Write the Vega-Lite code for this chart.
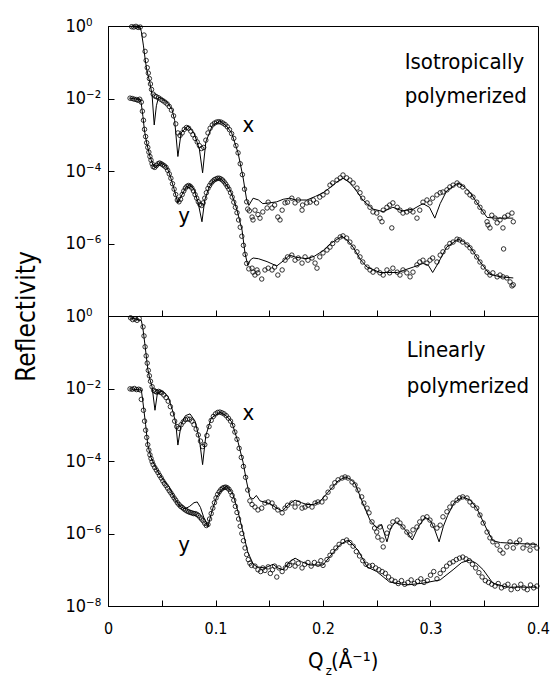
{
"$schema": "https://vega.github.io/schema/vega-lite/v6.json",
"background": "white",
"padding": {"left": 12, "top": 16, "right": 0, "bottom": 0},
"bounds": "flush",
"spacing": 0,
"config": {
 "view": {"stroke": "black", "strokeWidth": 1},
 "font": "DejaVu Sans Condensed, sans-serif",
 "axis": {"grid": false, "domainColor": "black", "tickColor": "black", "labelColor": "black", "titleColor": "black", "tickSize": -6, "labelFontSize": 18, "labelOverlap": false, "labelFlush": false, "labelFont": "DejaVu Sans Condensed, sans-serif", "titleFont": "DejaVu Sans Condensed, sans-serif", "titleFontWeight": "normal", "domainWidth": 1, "tickWidth": 1}
},
"datasets": {
"topFit": [
{"q":0.020,"lr":-0.02,"s":"x"},{"q":0.025,"lr":-0.02,"s":"x"},{"q":0.030,"lr":-0.05,"s":"x"},{"q":0.031,"lr":-0.15,"s":"x"},{"q":0.033,"lr":-0.55,"s":"x"},{"q":0.0345,"lr":-0.9,"s":"x"},{"q":0.036,"lr":-1.2,"s":"x"},{"q":0.039,"lr":-1.57,"s":"x"},{"q":0.041,"lr":-1.9,"s":"x"},{"q":0.043,"lr":-2.73,"s":"x"},{"q":0.045,"lr":-2.2,"s":"x"},{"q":0.047,"lr":-1.97,"s":"x"},{"q":0.050,"lr":-2.0,"s":"x"},{"q":0.055,"lr":-2.1,"s":"x"},{"q":0.0595,"lr":-2.3,"s":"x"},{"q":0.062,"lr":-2.6,"s":"x"},{"q":0.065,"lr":-3.6,"s":"x"},{"q":0.068,"lr":-2.95,"s":"x"},{"q":0.0744,"lr":-2.75,"s":"x"},{"q":0.080,"lr":-2.95,"s":"x"},{"q":0.085,"lr":-3.4,"s":"x"},{"q":0.088,"lr":-4.05,"s":"x"},{"q":0.091,"lr":-3.2,"s":"x"},{"q":0.097,"lr":-2.75,"s":"x"},{"q":0.104,"lr":-2.62,"s":"x"},{"q":0.110,"lr":-2.75,"s":"x"},{"q":0.115,"lr":-2.95,"s":"x"},{"q":0.121,"lr":-3.5,"s":"x"},{"q":0.1256,"lr":-4.17,"s":"x"},{"q":0.129,"lr":-4.8,"s":"x"},{"q":0.131,"lr":-4.95,"s":"x"},{"q":0.135,"lr":-4.75,"s":"x"},{"q":0.140,"lr":-4.8,"s":"x"},{"q":0.144,"lr":-4.9,"s":"x"},{"q":0.150,"lr":-4.88,"s":"x"},{"q":0.157,"lr":-4.85,"s":"x"},{"q":0.163,"lr":-4.78,"s":"x"},{"q":0.169,"lr":-4.75,"s":"x"},{"q":0.175,"lr":-4.8,"s":"x"},{"q":0.185,"lr":-4.8,"s":"x"},{"q":0.193,"lr":-4.7,"s":"x"},{"q":0.200,"lr":-4.6,"s":"x"},{"q":0.207,"lr":-4.45,"s":"x"},{"q":0.213,"lr":-4.3,"s":"x"},{"q":0.2186,"lr":-4.2,"s":"x"},{"q":0.224,"lr":-4.3,"s":"x"},{"q":0.230,"lr":-4.5,"s":"x"},{"q":0.237,"lr":-4.8,"s":"x"},{"q":0.2465,"lr":-5.05,"s":"x"},{"q":0.256,"lr":-5.12,"s":"x"},{"q":0.265,"lr":-5.0,"s":"x"},{"q":0.274,"lr":-5.1,"s":"x"},{"q":0.284,"lr":-5.05,"s":"x"},{"q":0.293,"lr":-4.9,"s":"x"},{"q":0.299,"lr":-5.0,"s":"x"},{"q":0.304,"lr":-5.3,"s":"x"},{"q":0.309,"lr":-4.9,"s":"x"},{"q":0.315,"lr":-4.55,"s":"x"},{"q":0.3256,"lr":-4.33,"s":"x"},{"q":0.332,"lr":-4.45,"s":"x"},{"q":0.337,"lr":-4.6,"s":"x"},{"q":0.346,"lr":-5.0,"s":"x"},{"q":0.3526,"lr":-5.28,"s":"x"},{"q":0.360,"lr":-5.3,"s":"x"},{"q":0.377,"lr":-5.3,"s":"x"},
{"q":0.020,"lr":-1.99,"s":"y"},{"q":0.030,"lr":-2.03,"s":"y"},{"q":0.031,"lr":-2.15,"s":"y"},{"q":0.0325,"lr":-2.5,"s":"y"},{"q":0.034,"lr":-2.9,"s":"y"},{"q":0.036,"lr":-3.23,"s":"y"},{"q":0.039,"lr":-3.6,"s":"y"},{"q":0.0425,"lr":-3.88,"s":"y"},{"q":0.0445,"lr":-3.9,"s":"y"},{"q":0.0484,"lr":-3.77,"s":"y"},{"q":0.052,"lr":-3.82,"s":"y"},{"q":0.055,"lr":-3.9,"s":"y"},{"q":0.058,"lr":-4.15,"s":"y"},{"q":0.0615,"lr":-4.5,"s":"y"},{"q":0.065,"lr":-4.88,"s":"y"},{"q":0.068,"lr":-4.7,"s":"y"},{"q":0.0725,"lr":-4.45,"s":"y"},{"q":0.0763,"lr":-4.38,"s":"y"},{"q":0.080,"lr":-4.5,"s":"y"},{"q":0.084,"lr":-4.9,"s":"y"},{"q":0.0874,"lr":-5.4,"s":"y"},{"q":0.090,"lr":-4.8,"s":"y"},{"q":0.094,"lr":-4.45,"s":"y"},{"q":0.098,"lr":-4.28,"s":"y"},{"q":0.104,"lr":-4.2,"s":"y"},{"q":0.108,"lr":-4.3,"s":"y"},{"q":0.1135,"lr":-4.52,"s":"y"},{"q":0.117,"lr":-4.8,"s":"y"},{"q":0.120,"lr":-5.08,"s":"y"},{"q":0.1247,"lr":-5.63,"s":"y"},{"q":0.1274,"lr":-6.26,"s":"y"},{"q":0.130,"lr":-6.6,"s":"y"},{"q":0.1325,"lr":-6.45,"s":"y"},{"q":0.135,"lr":-6.4,"s":"y"},{"q":0.140,"lr":-6.42,"s":"y"},{"q":0.148,"lr":-6.5,"s":"y"},{"q":0.157,"lr":-6.62,"s":"y"},{"q":0.163,"lr":-6.48,"s":"y"},{"q":0.169,"lr":-6.32,"s":"y"},{"q":0.175,"lr":-6.38,"s":"y"},{"q":0.185,"lr":-6.42,"s":"y"},{"q":0.192,"lr":-6.35,"s":"y"},{"q":0.200,"lr":-6.2,"s":"y"},{"q":0.207,"lr":-6.0,"s":"y"},{"q":0.2177,"lr":-5.8,"s":"y"},{"q":0.223,"lr":-5.92,"s":"y"},{"q":0.228,"lr":-6.1,"s":"y"},{"q":0.235,"lr":-6.45,"s":"y"},{"q":0.241,"lr":-6.65,"s":"y"},{"q":0.253,"lr":-6.8,"s":"y"},{"q":0.269,"lr":-6.8,"s":"y"},{"q":0.284,"lr":-6.65,"s":"y"},{"q":0.293,"lr":-6.55,"s":"y"},{"q":0.298,"lr":-6.6,"s":"y"},{"q":0.302,"lr":-6.8,"s":"y"},{"q":0.307,"lr":-6.55,"s":"y"},{"q":0.315,"lr":-6.1,"s":"y"},{"q":0.3256,"lr":-5.88,"s":"y"},{"q":0.331,"lr":-5.95,"s":"y"},{"q":0.337,"lr":-6.1,"s":"y"},{"q":0.346,"lr":-6.5,"s":"y"},{"q":0.355,"lr":-6.85,"s":"y"},{"q":0.365,"lr":-6.92,"s":"y"},{"q":0.377,"lr":-6.95,"s":"y"}
],
"topData": [
{"q":0.022,"lr":-0.02},{"q":0.024,"lr":-0.03},{"q":0.026,"lr":-0.01},{"q":0.028,"lr":-0.04},{"q":0.030,"lr":-0.03},{"q":0.0335,"lr":-0.25},{"q":0.0345,"lr":-0.7},{"q":0.0355,"lr":-0.95},{"q":0.0365,"lr":-1.15},{"q":0.0375,"lr":-1.3},{"q":0.0385,"lr":-1.45},{"q":0.0395,"lr":-1.6},{"q":0.0405,"lr":-1.75},{"q":0.042,"lr":-1.88},{"q":0.0435,"lr":-1.93},{"q":0.045,"lr":-1.95},{"q":0.047,"lr":-1.98},{"q":0.049,"lr":-2.02},{"q":0.051,"lr":-2.06},{"q":0.053,"lr":-2.1},{"q":0.055,"lr":-2.15},{"q":0.057,"lr":-2.22},{"q":0.059,"lr":-2.32},{"q":0.061,"lr":-2.48},{"q":0.063,"lr":-2.7},{"q":0.065,"lr":-2.95},{"q":0.067,"lr":-3.02},{"q":0.069,"lr":-2.95},{"q":0.071,"lr":-2.85},{"q":0.073,"lr":-2.8},{"q":0.075,"lr":-2.82},{"q":0.077,"lr":-2.9},{"q":0.079,"lr":-3.0},{"q":0.081,"lr":-3.1},{"q":0.083,"lr":-3.2},{"q":0.085,"lr":-3.3},{"q":0.087,"lr":-3.38},{"q":0.089,"lr":-3.35},{"q":0.091,"lr":-3.15},{"q":0.093,"lr":-2.95},{"q":0.095,"lr":-2.82},{"q":0.097,"lr":-2.73},{"q":0.099,"lr":-2.68},{"q":0.101,"lr":-2.65},{"q":0.103,"lr":-2.64},{"q":0.105,"lr":-2.65},{"q":0.107,"lr":-2.68},{"q":0.109,"lr":-2.72},{"q":0.111,"lr":-2.78},{"q":0.113,"lr":-2.86},{"q":0.115,"lr":-2.97},{"q":0.117,"lr":-3.1},{"q":0.119,"lr":-3.3},{"q":0.121,"lr":-3.5},{"q":0.123,"lr":-3.8},{"q":0.125,"lr":-4.1},{"q":0.127,"lr":-4.5},{"q":0.129,"lr":-4.85},{"q":0.130,"lr":-5.05},{"q":0.1315,"lr":-5.1},{"q":0.134,"lr":-5.27},{"q":0.1349,"lr":-5.35},{"q":0.1367,"lr":-5.08},{"q":0.1395,"lr":-5.2},{"q":0.1414,"lr":-5.3},{"q":0.144,"lr":-5.13},{"q":0.148,"lr":-5.02},{"q":0.149,"lr":-4.86},{"q":0.1526,"lr":-5.02},{"q":0.155,"lr":-4.94},{"q":0.158,"lr":-5.27},{"q":0.16,"lr":-5.35},{"q":0.162,"lr":-5.08},{"q":0.1647,"lr":-4.88},{"q":0.167,"lr":-4.86},{"q":0.171,"lr":-4.75},{"q":0.174,"lr":-4.88},{"q":0.177,"lr":-4.8},{"q":0.1805,"lr":-5.08},{"q":0.181,"lr":-4.94},{"q":0.185,"lr":-4.88},{"q":0.188,"lr":-4.86},{"q":0.191,"lr":-4.8},{"q":0.194,"lr":-4.88},{"q":0.197,"lr":-4.72},{"q":0.2,"lr":-4.66},{"q":0.2037,"lr":-4.58},{"q":0.2065,"lr":-4.39},{"q":0.209,"lr":-4.33},{"q":0.213,"lr":-4.25},{"q":0.216,"lr":-4.19},{"q":0.2186,"lr":-4.11},{"q":0.222,"lr":-4.19},{"q":0.225,"lr":-4.25},{"q":0.228,"lr":-4.33},{"q":0.2316,"lr":-4.47},{"q":0.2344,"lr":-4.6},{"q":0.237,"lr":-4.75},{"q":0.241,"lr":-4.88},{"q":0.2437,"lr":-5.0},{"q":0.2465,"lr":-5.13},{"q":0.25,"lr":-5.16},{"q":0.253,"lr":-5.3},{"q":0.2549,"lr":-5.4},{"q":0.256,"lr":-5.08},{"q":0.2595,"lr":-5.0},{"q":0.262,"lr":-4.94},{"q":0.264,"lr":-5.57},{"q":0.265,"lr":-4.88},{"q":0.269,"lr":-5.0},{"q":0.2716,"lr":-5.08},{"q":0.2744,"lr":-5.16},{"q":0.278,"lr":-5.13},{"q":0.281,"lr":-5.08},{"q":0.2837,"lr":-5.13},{"q":0.2874,"lr":-5.3},{"q":0.29,"lr":-5.08},{"q":0.293,"lr":-4.86},{"q":0.2967,"lr":-4.8},{"q":0.2995,"lr":-4.88},{"q":0.302,"lr":-4.75},{"q":0.306,"lr":-4.66},{"q":0.309,"lr":-4.6},{"q":0.3116,"lr":-4.58},{"q":0.3153,"lr":-4.52},{"q":0.318,"lr":-4.44},{"q":0.321,"lr":-4.39},{"q":0.3247,"lr":-4.33},{"q":0.327,"lr":-4.39},{"q":0.33,"lr":-4.44},{"q":0.334,"lr":-4.58},{"q":0.3367,"lr":-4.66},{"q":0.3395,"lr":-4.72},{"q":0.343,"lr":-4.86},{"q":0.346,"lr":-5.0},{"q":0.349,"lr":-5.13},{"q":0.3526,"lr":-5.4},{"q":0.3535,"lr":-5.49},{"q":0.3553,"lr":-5.57},{"q":0.357,"lr":-5.22},{"q":0.36,"lr":-5.3},{"q":0.362,"lr":-5.43},{"q":0.3647,"lr":-5.35},{"q":0.3674,"lr":-5.57},{"q":0.369,"lr":-5.27},{"q":0.372,"lr":-5.22},{"q":0.3758,"lr":-5.16},{"q":0.377,"lr":-5.4},
{"q":0.0205,"lr":-1.99},{"q":0.0225,"lr":-2.0},{"q":0.0245,"lr":-2.02},{"q":0.0265,"lr":-2.03},{"q":0.028,"lr":-2.05},{"q":0.0295,"lr":-2.02},{"q":0.031,"lr":-2.1},{"q":0.032,"lr":-2.35},{"q":0.033,"lr":-2.6},{"q":0.034,"lr":-2.85},{"q":0.035,"lr":-3.05},{"q":0.036,"lr":-3.22},{"q":0.037,"lr":-3.35},{"q":0.038,"lr":-3.48},{"q":0.039,"lr":-3.6},{"q":0.040,"lr":-3.7},{"q":0.041,"lr":-3.8},{"q":0.042,"lr":-3.88},{"q":0.0435,"lr":-3.9},{"q":0.045,"lr":-3.85},{"q":0.0465,"lr":-3.8},{"q":0.048,"lr":-3.78},{"q":0.0495,"lr":-3.8},{"q":0.051,"lr":-3.83},{"q":0.0525,"lr":-3.86},{"q":0.054,"lr":-3.9},{"q":0.0555,"lr":-3.98},{"q":0.057,"lr":-4.08},{"q":0.0585,"lr":-4.2},{"q":0.060,"lr":-4.35},{"q":0.0615,"lr":-4.5},{"q":0.063,"lr":-4.65},{"q":0.0645,"lr":-4.8},{"q":0.066,"lr":-4.85},{"q":0.0675,"lr":-4.78},{"q":0.069,"lr":-4.65},{"q":0.0705,"lr":-4.55},{"q":0.072,"lr":-4.47},{"q":0.0735,"lr":-4.42},{"q":0.075,"lr":-4.4},{"q":0.0765,"lr":-4.42},{"q":0.078,"lr":-4.47},{"q":0.0795,"lr":-4.55},{"q":0.081,"lr":-4.65},{"q":0.0825,"lr":-4.75},{"q":0.084,"lr":-4.85},{"q":0.0855,"lr":-4.92},{"q":0.087,"lr":-4.95},{"q":0.0885,"lr":-4.88},{"q":0.090,"lr":-4.75},{"q":0.0915,"lr":-4.6},{"q":0.093,"lr":-4.48},{"q":0.0945,"lr":-4.4},{"q":0.096,"lr":-4.33},{"q":0.0975,"lr":-4.28},{"q":0.099,"lr":-4.24},{"q":0.1005,"lr":-4.22},{"q":0.102,"lr":-4.2},{"q":0.1035,"lr":-4.2},{"q":0.105,"lr":-4.22},{"q":0.1065,"lr":-4.25},{"q":0.108,"lr":-4.3},{"q":0.1095,"lr":-4.36},{"q":0.111,"lr":-4.43},{"q":0.1125,"lr":-4.5},{"q":0.114,"lr":-4.6},{"q":0.1155,"lr":-4.72},{"q":0.117,"lr":-4.86},{"q":0.1185,"lr":-5.0},{"q":0.120,"lr":-5.15},{"q":0.1215,"lr":-5.35},{"q":0.123,"lr":-5.55},{"q":0.1245,"lr":-5.8},{"q":0.126,"lr":-6.05},{"q":0.1275,"lr":-6.3},{"q":0.129,"lr":-6.55},{"q":0.131,"lr":-6.7},{"q":0.134,"lr":-6.68},{"q":0.1349,"lr":-6.79},{"q":0.1367,"lr":-6.87},{"q":0.1386,"lr":-6.73},{"q":0.1395,"lr":-6.81},{"q":0.143,"lr":-6.98},{"q":0.146,"lr":-6.73},{"q":0.149,"lr":-6.68},{"q":0.1526,"lr":-6.73},{"q":0.155,"lr":-6.65},{"q":0.158,"lr":-6.87},{"q":0.162,"lr":-6.73},{"q":0.1647,"lr":-6.46},{"q":0.167,"lr":-6.37},{"q":0.171,"lr":-6.32},{"q":0.174,"lr":-6.46},{"q":0.177,"lr":-6.4},{"q":0.1805,"lr":-6.54},{"q":0.1833,"lr":-6.37},{"q":0.186,"lr":-6.46},{"q":0.1898,"lr":-6.4},{"q":0.1926,"lr":-6.54},{"q":0.1944,"lr":-6.68},{"q":0.197,"lr":-6.37},{"q":0.2,"lr":-6.26},{"q":0.2037,"lr":-6.18},{"q":0.2065,"lr":-6.1},{"q":0.209,"lr":-6.0},{"q":0.213,"lr":-5.9},{"q":0.216,"lr":-5.82},{"q":0.2186,"lr":-5.79},{"q":0.222,"lr":-5.85},{"q":0.225,"lr":-5.96},{"q":0.228,"lr":-6.1},{"q":0.2316,"lr":-6.23},{"q":0.2344,"lr":-6.37},{"q":0.237,"lr":-6.51},{"q":0.241,"lr":-6.65},{"q":0.2437,"lr":-6.73},{"q":0.2465,"lr":-6.79},{"q":0.25,"lr":-6.73},{"q":0.253,"lr":-6.81},{"q":0.256,"lr":-6.87},{"q":0.2595,"lr":-6.73},{"q":0.262,"lr":-6.81},{"q":0.265,"lr":-6.68},{"q":0.269,"lr":-6.79},{"q":0.2716,"lr":-6.87},{"q":0.2744,"lr":-6.73},{"q":0.278,"lr":-6.81},{"q":0.281,"lr":-6.92},{"q":0.2837,"lr":-6.79},{"q":0.2874,"lr":-6.59},{"q":0.29,"lr":-6.51},{"q":0.293,"lr":-6.46},{"q":0.2967,"lr":-6.54},{"q":0.2995,"lr":-6.46},{"q":0.302,"lr":-6.4},{"q":0.306,"lr":-6.51},{"q":0.309,"lr":-6.32},{"q":0.3116,"lr":-6.23},{"q":0.3153,"lr":-6.1},{"q":0.318,"lr":-6.0},{"q":0.321,"lr":-5.96},{"q":0.3247,"lr":-5.88},{"q":0.327,"lr":-5.9},{"q":0.33,"lr":-5.96},{"q":0.334,"lr":-6.04},{"q":0.3367,"lr":-6.12},{"q":0.3395,"lr":-6.23},{"q":0.343,"lr":-6.37},{"q":0.346,"lr":-6.51},{"q":0.349,"lr":-6.65},{"q":0.3526,"lr":-6.79},{"q":0.3553,"lr":-6.87},{"q":0.358,"lr":-6.81},{"q":0.362,"lr":-6.92},{"q":0.3647,"lr":-6.87},{"q":0.3674,"lr":-6.92},{"q":0.368,"lr":-6.15},{"q":0.371,"lr":-6.95},{"q":0.374,"lr":-7.06},{"q":0.3758,"lr":-7.17},{"q":0.377,"lr":-7.14}
],
"botFit": [
{"q":0.020,"lr":-0.05,"s":"x"},{"q":0.025,"lr":-0.08,"s":"x"},{"q":0.031,"lr":-0.12,"s":"x"},{"q":0.0325,"lr":-0.35,"s":"x"},{"q":0.0344,"lr":-0.8,"s":"x"},{"q":0.037,"lr":-1.46,"s":"x"},{"q":0.039,"lr":-1.75,"s":"x"},{"q":0.041,"lr":-1.95,"s":"x"},{"q":0.0437,"lr":-2.6,"s":"x"},{"q":0.046,"lr":-2.12,"s":"x"},{"q":0.049,"lr":-2.08,"s":"x"},{"q":0.052,"lr":-2.1,"s":"x"},{"q":0.056,"lr":-2.23,"s":"x"},{"q":0.0605,"lr":-2.65,"s":"x"},{"q":0.063,"lr":-2.95,"s":"x"},{"q":0.065,"lr":-3.56,"s":"x"},{"q":0.068,"lr":-3.0,"s":"x"},{"q":0.072,"lr":-2.75,"s":"x"},{"q":0.0763,"lr":-2.7,"s":"x"},{"q":0.081,"lr":-2.9,"s":"x"},{"q":0.085,"lr":-3.4,"s":"x"},{"q":0.088,"lr":-4.1,"s":"x"},{"q":0.091,"lr":-3.3,"s":"x"},{"q":0.096,"lr":-2.82,"s":"x"},{"q":0.104,"lr":-2.65,"s":"x"},{"q":0.110,"lr":-2.75,"s":"x"},{"q":0.115,"lr":-2.92,"s":"x"},{"q":0.121,"lr":-3.48,"s":"x"},{"q":0.1256,"lr":-4.03,"s":"x"},{"q":0.129,"lr":-4.58,"s":"x"},{"q":0.132,"lr":-5.0,"s":"x"},{"q":0.135,"lr":-5.05,"s":"x"},{"q":0.138,"lr":-4.95,"s":"x"},{"q":0.1414,"lr":-5.1,"s":"x"},{"q":0.1507,"lr":-5.18,"s":"x"},{"q":0.157,"lr":-5.3,"s":"x"},{"q":0.162,"lr":-5.38,"s":"x"},{"q":0.168,"lr":-5.2,"s":"x"},{"q":0.174,"lr":-5.08,"s":"x"},{"q":0.180,"lr":-5.15,"s":"x"},{"q":0.185,"lr":-5.2,"s":"x"},{"q":0.191,"lr":-5.2,"s":"x"},{"q":0.197,"lr":-5.12,"s":"x"},{"q":0.2065,"lr":-4.8,"s":"x"},{"q":0.214,"lr":-4.55,"s":"x"},{"q":0.2205,"lr":-4.44,"s":"x"},{"q":0.2255,"lr":-4.5,"s":"x"},{"q":0.2298,"lr":-4.62,"s":"x"},{"q":0.237,"lr":-5.16,"s":"x"},{"q":0.2437,"lr":-5.63,"s":"x"},{"q":0.250,"lr":-5.85,"s":"x"},{"q":0.2545,"lr":-5.75,"s":"x"},{"q":0.2595,"lr":-6.23,"s":"x"},{"q":0.263,"lr":-5.85,"s":"x"},{"q":0.267,"lr":-5.7,"s":"x"},{"q":0.272,"lr":-5.75,"s":"x"},{"q":0.278,"lr":-5.95,"s":"x"},{"q":0.283,"lr":-6.18,"s":"x"},{"q":0.289,"lr":-5.8,"s":"x"},{"q":0.295,"lr":-5.55,"s":"x"},{"q":0.300,"lr":-5.65,"s":"x"},{"q":0.304,"lr":-5.9,"s":"x"},{"q":0.308,"lr":-6.23,"s":"x"},{"q":0.312,"lr":-5.8,"s":"x"},{"q":0.316,"lr":-5.5,"s":"x"},{"q":0.322,"lr":-5.15,"s":"x"},{"q":0.330,"lr":-4.99,"s":"x"},{"q":0.337,"lr":-5.08,"s":"x"},{"q":0.343,"lr":-5.3,"s":"x"},{"q":0.3526,"lr":-5.9,"s":"x"},{"q":0.358,"lr":-6.2,"s":"x"},{"q":0.365,"lr":-6.25,"s":"x"},{"q":0.383,"lr":-6.28,"s":"x"},{"q":0.399,"lr":-6.3,"s":"x"},
{"q":0.020,"lr":-2.01,"s":"y"},{"q":0.031,"lr":-2.04,"s":"y"},{"q":0.0326,"lr":-2.4,"s":"y"},{"q":0.035,"lr":-3.0,"s":"y"},{"q":0.037,"lr":-3.56,"s":"y"},{"q":0.040,"lr":-3.9,"s":"y"},{"q":0.042,"lr":-4.03,"s":"y"},{"q":0.0465,"lr":-4.3,"s":"y"},{"q":0.053,"lr":-4.58,"s":"y"},{"q":0.057,"lr":-4.72,"s":"y"},{"q":0.0623,"lr":-5.05,"s":"y"},{"q":0.067,"lr":-5.25,"s":"y"},{"q":0.0716,"lr":-5.32,"s":"y"},{"q":0.076,"lr":-5.25,"s":"y"},{"q":0.080,"lr":-5.15,"s":"y"},{"q":0.083,"lr":-5.13,"s":"y"},{"q":0.086,"lr":-5.28,"s":"y"},{"q":0.089,"lr":-5.55,"s":"y"},{"q":0.093,"lr":-5.8,"s":"y"},{"q":0.097,"lr":-5.35,"s":"y"},{"q":0.101,"lr":-5.0,"s":"y"},{"q":0.106,"lr":-4.78,"s":"y"},{"q":0.1107,"lr":-4.7,"s":"y"},{"q":0.116,"lr":-4.9,"s":"y"},{"q":0.121,"lr":-5.4,"s":"y"},{"q":0.1256,"lr":-5.96,"s":"y"},{"q":0.130,"lr":-6.51,"s":"y"},{"q":0.135,"lr":-6.84,"s":"y"},{"q":0.1386,"lr":-6.92,"s":"y"},{"q":0.146,"lr":-6.95,"s":"y"},{"q":0.1535,"lr":-6.85,"s":"y"},{"q":0.158,"lr":-6.95,"s":"y"},{"q":0.163,"lr":-7.0,"s":"y"},{"q":0.168,"lr":-6.8,"s":"y"},{"q":0.174,"lr":-6.68,"s":"y"},{"q":0.180,"lr":-6.78,"s":"y"},{"q":0.188,"lr":-6.87,"s":"y"},{"q":0.200,"lr":-6.87,"s":"y"},{"q":0.209,"lr":-6.54,"s":"y"},{"q":0.216,"lr":-6.3,"s":"y"},{"q":0.2233,"lr":-6.18,"s":"y"},{"q":0.2326,"lr":-6.46,"s":"y"},{"q":0.241,"lr":-6.92,"s":"y"},{"q":0.250,"lr":-7.05,"s":"y"},{"q":0.262,"lr":-7.34,"s":"y"},{"q":0.278,"lr":-7.42,"s":"y"},{"q":0.293,"lr":-7.37,"s":"y"},{"q":0.309,"lr":-7.28,"s":"y"},{"q":0.321,"lr":-7.0,"s":"y"},{"q":0.329,"lr":-6.8,"s":"y"},{"q":0.337,"lr":-6.73,"s":"y"},{"q":0.343,"lr":-6.83,"s":"y"},{"q":0.349,"lr":-7.0,"s":"y"},{"q":0.358,"lr":-7.37,"s":"y"},{"q":0.371,"lr":-7.48,"s":"y"},{"q":0.399,"lr":-7.48,"s":"y"}
],
"botData": [
{"q":0.021,"lr":-0.05},{"q":0.023,"lr":-0.1},{"q":0.025,"lr":-0.08},{"q":0.027,"lr":-0.12},{"q":0.029,"lr":-0.07},{"q":0.0326,"lr":-0.3},{"q":0.0335,"lr":-0.55},{"q":0.0345,"lr":-0.85},{"q":0.0355,"lr":-1.1},{"q":0.0365,"lr":-1.3},{"q":0.0375,"lr":-1.5},{"q":0.0385,"lr":-1.65},{"q":0.0395,"lr":-1.8},{"q":0.041,"lr":-1.95},{"q":0.0425,"lr":-2.05},{"q":0.044,"lr":-2.08},{"q":0.0455,"lr":-2.1},{"q":0.047,"lr":-2.08},{"q":0.0485,"lr":-2.1},{"q":0.050,"lr":-2.12},{"q":0.052,"lr":-2.18},{"q":0.054,"lr":-2.25},{"q":0.056,"lr":-2.35},{"q":0.058,"lr":-2.5},{"q":0.060,"lr":-2.7},{"q":0.062,"lr":-2.9},{"q":0.064,"lr":-3.05},{"q":0.066,"lr":-3.1},{"q":0.068,"lr":-3.0},{"q":0.070,"lr":-2.92},{"q":0.072,"lr":-2.86},{"q":0.074,"lr":-2.84},{"q":0.076,"lr":-2.85},{"q":0.078,"lr":-2.9},{"q":0.080,"lr":-3.0},{"q":0.082,"lr":-3.12},{"q":0.084,"lr":-3.28},{"q":0.086,"lr":-3.45},{"q":0.088,"lr":-3.6},{"q":0.090,"lr":-3.55},{"q":0.092,"lr":-3.3},{"q":0.094,"lr":-3.05},{"q":0.096,"lr":-2.88},{"q":0.098,"lr":-2.77},{"q":0.100,"lr":-2.7},{"q":0.102,"lr":-2.66},{"q":0.104,"lr":-2.65},{"q":0.106,"lr":-2.67},{"q":0.108,"lr":-2.7},{"q":0.110,"lr":-2.75},{"q":0.112,"lr":-2.82},{"q":0.114,"lr":-2.9},{"q":0.116,"lr":-3.02},{"q":0.118,"lr":-3.2},{"q":0.120,"lr":-3.4},{"q":0.122,"lr":-3.65},{"q":0.124,"lr":-3.9},{"q":0.126,"lr":-4.15},{"q":0.128,"lr":-4.45},{"q":0.130,"lr":-4.8},{"q":0.132,"lr":-5.1},{"q":0.134,"lr":-5.2},{"q":0.1367,"lr":-5.27},{"q":0.1395,"lr":-5.35},{"q":0.143,"lr":-5.3},{"q":0.146,"lr":-5.16},{"q":0.149,"lr":-5.13},{"q":0.1526,"lr":-5.16},{"q":0.155,"lr":-5.27},{"q":0.158,"lr":-5.35},{"q":0.162,"lr":-5.43},{"q":0.1647,"lr":-5.3},{"q":0.167,"lr":-5.22},{"q":0.171,"lr":-5.16},{"q":0.174,"lr":-5.27},{"q":0.177,"lr":-5.16},{"q":0.1805,"lr":-5.3},{"q":0.1833,"lr":-5.27},{"q":0.186,"lr":-5.22},{"q":0.1898,"lr":-5.27},{"q":0.1926,"lr":-5.16},{"q":0.1953,"lr":-5.13},{"q":0.199,"lr":-5.13},{"q":0.202,"lr":-5.02},{"q":0.2047,"lr":-4.86},{"q":0.2084,"lr":-4.72},{"q":0.211,"lr":-4.6},{"q":0.214,"lr":-4.52},{"q":0.2177,"lr":-4.47},{"q":0.2205,"lr":-4.44},{"q":0.2233,"lr":-4.47},{"q":0.227,"lr":-4.58},{"q":0.2298,"lr":-4.66},{"q":0.2326,"lr":-4.8},{"q":0.236,"lr":-4.99},{"q":0.238,"lr":-5.16},{"q":0.241,"lr":-5.3},{"q":0.2428,"lr":-5.43},{"q":0.2456,"lr":-5.68},{"q":0.248,"lr":-5.85},{"q":0.250,"lr":-5.96},{"q":0.251,"lr":-6.1},{"q":0.253,"lr":-5.82},{"q":0.2549,"lr":-6.18},{"q":0.256,"lr":-6.37},{"q":0.2595,"lr":-5.99},{"q":0.262,"lr":-5.82},{"q":0.265,"lr":-5.68},{"q":0.269,"lr":-5.63},{"q":0.2716,"lr":-5.71},{"q":0.2744,"lr":-5.82},{"q":0.278,"lr":-5.96},{"q":0.281,"lr":-6.04},{"q":0.2837,"lr":-5.9},{"q":0.2874,"lr":-5.82},{"q":0.290,"lr":-5.68},{"q":0.293,"lr":-5.57},{"q":0.2967,"lr":-5.54},{"q":0.2995,"lr":-5.63},{"q":0.302,"lr":-5.77},{"q":0.306,"lr":-5.85},{"q":0.309,"lr":-5.77},{"q":0.3116,"lr":-5.54},{"q":0.3153,"lr":-5.4},{"q":0.318,"lr":-5.27},{"q":0.321,"lr":-5.16},{"q":0.3247,"lr":-5.08},{"q":0.327,"lr":-5.02},{"q":0.330,"lr":-4.99},{"q":0.334,"lr":-5.02},{"q":0.3367,"lr":-5.13},{"q":0.3395,"lr":-5.22},{"q":0.343,"lr":-5.3},{"q":0.346,"lr":-5.49},{"q":0.349,"lr":-5.71},{"q":0.3526,"lr":-5.96},{"q":0.3553,"lr":-6.12},{"q":0.358,"lr":-6.23},{"q":0.362,"lr":-6.32},{"q":0.3647,"lr":-6.46},{"q":0.3674,"lr":-6.54},{"q":0.371,"lr":-6.37},{"q":0.374,"lr":-6.23},{"q":0.377,"lr":-6.4},{"q":0.380,"lr":-6.26},{"q":0.383,"lr":-6.18},{"q":0.386,"lr":-6.4},{"q":0.390,"lr":-6.32},{"q":0.3926,"lr":-6.46},{"q":0.3953,"lr":-6.32},{"q":0.399,"lr":-6.4},
{"q":0.0205,"lr":-2.01},{"q":0.0225,"lr":-2.02},{"q":0.0245,"lr":-2.0},{"q":0.0265,"lr":-2.03},{"q":0.0285,"lr":-2.02},{"q":0.030,"lr":-2.04},{"q":0.031,"lr":-2.3},{"q":0.033,"lr":-2.6},{"q":0.034,"lr":-2.9},{"q":0.035,"lr":-3.15},{"q":0.036,"lr":-3.35},{"q":0.037,"lr":-3.55},{"q":0.038,"lr":-3.7},{"q":0.039,"lr":-3.83},{"q":0.040,"lr":-3.93},{"q":0.041,"lr":-4.02},{"q":0.042,"lr":-4.1},{"q":0.0435,"lr":-4.18},{"q":0.045,"lr":-4.25},{"q":0.0465,"lr":-4.32},{"q":0.048,"lr":-4.4},{"q":0.0495,"lr":-4.47},{"q":0.051,"lr":-4.55},{"q":0.0525,"lr":-4.62},{"q":0.054,"lr":-4.68},{"q":0.0555,"lr":-4.75},{"q":0.057,"lr":-4.82},{"q":0.0585,"lr":-4.88},{"q":0.060,"lr":-4.95},{"q":0.0615,"lr":-5.02},{"q":0.063,"lr":-5.08},{"q":0.0645,"lr":-5.15},{"q":0.066,"lr":-5.2},{"q":0.0675,"lr":-5.25},{"q":0.069,"lr":-5.28},{"q":0.0705,"lr":-5.32},{"q":0.072,"lr":-5.35},{"q":0.0735,"lr":-5.38},{"q":0.075,"lr":-5.4},{"q":0.0765,"lr":-5.42},{"q":0.078,"lr":-5.43},{"q":0.0795,"lr":-5.45},{"q":0.081,"lr":-5.45},{"q":0.0825,"lr":-5.47},{"q":0.084,"lr":-5.5},{"q":0.0855,"lr":-5.55},{"q":0.087,"lr":-5.6},{"q":0.0885,"lr":-5.65},{"q":0.090,"lr":-5.72},{"q":0.0915,"lr":-5.78},{"q":0.093,"lr":-5.75},{"q":0.0945,"lr":-5.6},{"q":0.096,"lr":-5.45},{"q":0.0975,"lr":-5.3},{"q":0.099,"lr":-5.15},{"q":0.1005,"lr":-5.02},{"q":0.102,"lr":-4.92},{"q":0.1035,"lr":-4.85},{"q":0.105,"lr":-4.79},{"q":0.1065,"lr":-4.75},{"q":0.108,"lr":-4.73},{"q":0.1095,"lr":-4.72},{"q":0.111,"lr":-4.74},{"q":0.1125,"lr":-4.78},{"q":0.114,"lr":-4.85},{"q":0.1155,"lr":-4.95},{"q":0.117,"lr":-5.08},{"q":0.1185,"lr":-5.25},{"q":0.120,"lr":-5.42},{"q":0.1215,"lr":-5.6},{"q":0.123,"lr":-5.8},{"q":0.1245,"lr":-6.0},{"q":0.126,"lr":-6.2},{"q":0.1275,"lr":-6.4},{"q":0.129,"lr":-6.58},{"q":0.1305,"lr":-6.72},{"q":0.132,"lr":-6.82},{"q":0.1335,"lr":-6.88},{"q":0.1367,"lr":-6.9},{"q":0.1395,"lr":-7.0},{"q":0.142,"lr":-7.05},{"q":0.144,"lr":-6.95},{"q":0.146,"lr":-7.02},{"q":0.149,"lr":-6.92},{"q":0.151,"lr":-7.1},{"q":0.153,"lr":-7.0},{"q":0.155,"lr":-6.9},{"q":0.157,"lr":-7.2},{"q":0.159,"lr":-6.95},{"q":0.162,"lr":-7.05},{"q":0.165,"lr":-6.95},{"q":0.167,"lr":-6.85},{"q":0.169,"lr":-6.88},{"q":0.172,"lr":-6.78},{"q":0.174,"lr":-6.9},{"q":0.177,"lr":-6.82},{"q":0.1805,"lr":-6.95},{"q":0.183,"lr":-6.85},{"q":0.186,"lr":-6.8},{"q":0.189,"lr":-6.9},{"q":0.192,"lr":-6.8},{"q":0.1953,"lr":-6.85},{"q":0.198,"lr":-6.75},{"q":0.200,"lr":-6.88},{"q":0.2037,"lr":-6.72},{"q":0.2065,"lr":-6.6},{"q":0.209,"lr":-6.5},{"q":0.212,"lr":-6.4},{"q":0.215,"lr":-6.3},{"q":0.2186,"lr":-6.22},{"q":0.222,"lr":-6.18},{"q":0.225,"lr":-6.25},{"q":0.228,"lr":-6.35},{"q":0.231,"lr":-6.5},{"q":0.234,"lr":-6.62},{"q":0.237,"lr":-6.75},{"q":0.240,"lr":-6.85},{"q":0.243,"lr":-6.9},{"q":0.246,"lr":-6.88},{"q":0.249,"lr":-6.95},{"q":0.252,"lr":-7.0},{"q":0.255,"lr":-7.05},{"q":0.258,"lr":-7.1},{"q":0.261,"lr":-7.2},{"q":0.264,"lr":-7.28},{"q":0.267,"lr":-7.32},{"q":0.270,"lr":-7.38},{"q":0.273,"lr":-7.3},{"q":0.276,"lr":-7.4},{"q":0.279,"lr":-7.35},{"q":0.282,"lr":-7.28},{"q":0.285,"lr":-7.38},{"q":0.288,"lr":-7.32},{"q":0.291,"lr":-7.25},{"q":0.294,"lr":-7.35},{"q":0.297,"lr":-7.3},{"q":0.300,"lr":-7.15},{"q":0.303,"lr":-7.05},{"q":0.306,"lr":-7.25},{"q":0.309,"lr":-7.1},{"q":0.312,"lr":-7.0},{"q":0.315,"lr":-6.9},{"q":0.318,"lr":-6.82},{"q":0.321,"lr":-6.78},{"q":0.324,"lr":-6.72},{"q":0.327,"lr":-6.68},{"q":0.330,"lr":-6.65},{"q":0.333,"lr":-6.7},{"q":0.336,"lr":-6.75},{"q":0.339,"lr":-6.85},{"q":0.342,"lr":-6.95},{"q":0.345,"lr":-7.08},{"q":0.348,"lr":-7.2},{"q":0.351,"lr":-7.3},{"q":0.354,"lr":-7.35},{"q":0.357,"lr":-7.4},{"q":0.360,"lr":-7.45},{"q":0.363,"lr":-7.38},{"q":0.366,"lr":-7.5},{"q":0.369,"lr":-7.45},{"q":0.372,"lr":-7.4},{"q":0.375,"lr":-7.55},{"q":0.378,"lr":-7.45},{"q":0.381,"lr":-7.52},{"q":0.384,"lr":-7.4},{"q":0.387,"lr":-7.5},{"q":0.390,"lr":-7.55},{"q":0.393,"lr":-7.42},{"q":0.396,"lr":-7.5},{"q":0.399,"lr":-7.45}
]
},
"vconcat": [
{
 "width": 430, "height": 290,
 "layer": [
  {"data": {"name": "topFit"}, "mark": {"type": "line", "color": "black", "strokeWidth": 1},
   "encoding": {
    "x": {"field": "q", "type": "quantitative", "scale": {"domain": [0, 0.4], "nice": false}, "axis": {"title": null, "values": [0,0.05,0.1,0.15,0.2,0.25,0.3,0.35,0.4], "labels": false}},
    "y": {"field": "lr", "type": "quantitative", "scale": {"domain": [-8, 0], "nice": false}, "axis": {"title": "Reflectivity", "titleFontSize": 26, "titleX": -82, "titleY": 290, "titleAlign": "center", "titleBaseline": "middle", "values": [-8,-7,-6,-5,-4,-3,-2,-1,0], "labelAlign": "left", "labelPadding": 49, "labelExpr": "datum.value == 0 ? '10⁰' : datum.value == -2 ? '10⁻²' : datum.value == -4 ? '10⁻⁴' : datum.value == -6 ? '10⁻⁶' : ''"}},
    "detail": {"field": "s"}
   }},
  {"data": {"name": "topData"}, "mark": {"type": "point", "shape": "circle", "filled": false, "color": "black", "size": 20, "strokeWidth": 0.8, "opacity": 1},
   "encoding": {"x": {"field": "q", "type": "quantitative"}, "y": {"field": "lr", "type": "quantitative"}}},
  {"data": {"values": [{"q": 0.276, "lr": -1.19, "t": "Isotropically"}, {"q": 0.276, "lr": -2.12, "t": "polymerized"}]},
   "mark": {"type": "text", "align": "left", "baseline": "alphabetic", "fontSize": 22, "color": "black", "font": "DejaVu Sans Condensed, sans-serif"},
   "encoding": {"x": {"field": "q", "type": "quantitative"}, "y": {"field": "lr", "type": "quantitative"}, "text": {"field": "t"}}},
  {"data": {"values": [{"q": 0.1305, "lr": -2.92, "t": "x"}, {"q": 0.0707, "lr": -5.43, "t": "y"}]},
   "mark": {"type": "text", "align": "center", "baseline": "alphabetic", "fontSize": 22, "color": "black", "font": "DejaVu Sans Condensed, sans-serif"},
   "encoding": {"x": {"field": "q", "type": "quantitative"}, "y": {"field": "lr", "type": "quantitative"}, "text": {"field": "t"}}}
 ]
},
{
 "width": 430, "height": 290,
 "layer": [
  {"data": {"name": "botFit"}, "mark": {"type": "line", "color": "black", "strokeWidth": 1},
   "encoding": {
    "x": {"field": "q", "type": "quantitative", "scale": {"domain": [0, 0.4], "nice": false}, "axis": {"title": null, "values": [0,0.05,0.1,0.15,0.2,0.25,0.3,0.35,0.4], "labelFontSize": 16, "labelPadding": 20, "labelExpr": "indexof(['0','0.1','0.2','0.3','0.4'], format(datum.value, '.2~f')) >= 0 ? format(datum.value, '.2~f') : ''"}},
    "y": {"field": "lr", "type": "quantitative", "scale": {"domain": [-8, 0], "nice": false}, "axis": {"title": null, "values": [-8,-7,-6,-5,-4,-3,-2,-1,0], "labelAlign": "left", "labelPadding": 49, "labelExpr": "datum.value == 0 ? '10⁰' : datum.value == -2 ? '10⁻²' : datum.value == -4 ? '10⁻⁴' : datum.value == -6 ? '10⁻⁶' : datum.value == -8 ? '10⁻⁸' : ''"}},
    "detail": {"field": "s"}
   }},
  {"data": {"name": "botData"}, "mark": {"type": "point", "shape": "circle", "filled": false, "color": "black", "size": 20, "strokeWidth": 0.8, "opacity": 1},
   "encoding": {"x": {"field": "q", "type": "quantitative"}, "y": {"field": "lr", "type": "quantitative"}}},
  {"data": {"values": [{"q": 0.278, "lr": -1.13, "t": "Linearly"}, {"q": 0.278, "lr": -2.12, "t": "polymerized"}]},
   "mark": {"type": "text", "align": "left", "baseline": "alphabetic", "fontSize": 22, "color": "black", "font": "DejaVu Sans Condensed, sans-serif"},
   "encoding": {"x": {"field": "q", "type": "quantitative"}, "y": {"field": "lr", "type": "quantitative"}, "text": {"field": "t"}}},
  {"data": {"values": [{"q": 0.1305, "lr": -2.87, "t": "x"}, {"q": 0.0707, "lr": -6.51, "t": "y"}]},
   "mark": {"type": "text", "align": "center", "baseline": "alphabetic", "fontSize": 22, "color": "black", "font": "DejaVu Sans Condensed, sans-serif"},
   "encoding": {"x": {"field": "q", "type": "quantitative"}, "y": {"field": "lr", "type": "quantitative"}, "text": {"field": "t"}}},
  {"data": {"values": [{"q": 0.186, "lr": -9.71, "t": "Q"}, {"q": 0.2075, "lr": -9.71, "t": "(Å⁻¹)"}]},
   "mark": {"type": "text", "align": "left", "baseline": "alphabetic", "fontSize": 22, "color": "black", "font": "DejaVu Sans Condensed, sans-serif"},
   "encoding": {"x": {"field": "q", "type": "quantitative"}, "y": {"field": "lr", "type": "quantitative"}, "text": {"field": "t"}}},
  {"data": {"values": [{"q": 0.2025, "lr": -9.9, "t": "z"}]},
   "mark": {"type": "text", "align": "left", "baseline": "alphabetic", "fontSize": 13, "color": "black", "font": "DejaVu Sans Condensed, sans-serif"},
   "encoding": {"x": {"field": "q", "type": "quantitative"}, "y": {"field": "lr", "type": "quantitative"}, "text": {"field": "t"}}}
 ]
}
]
}
